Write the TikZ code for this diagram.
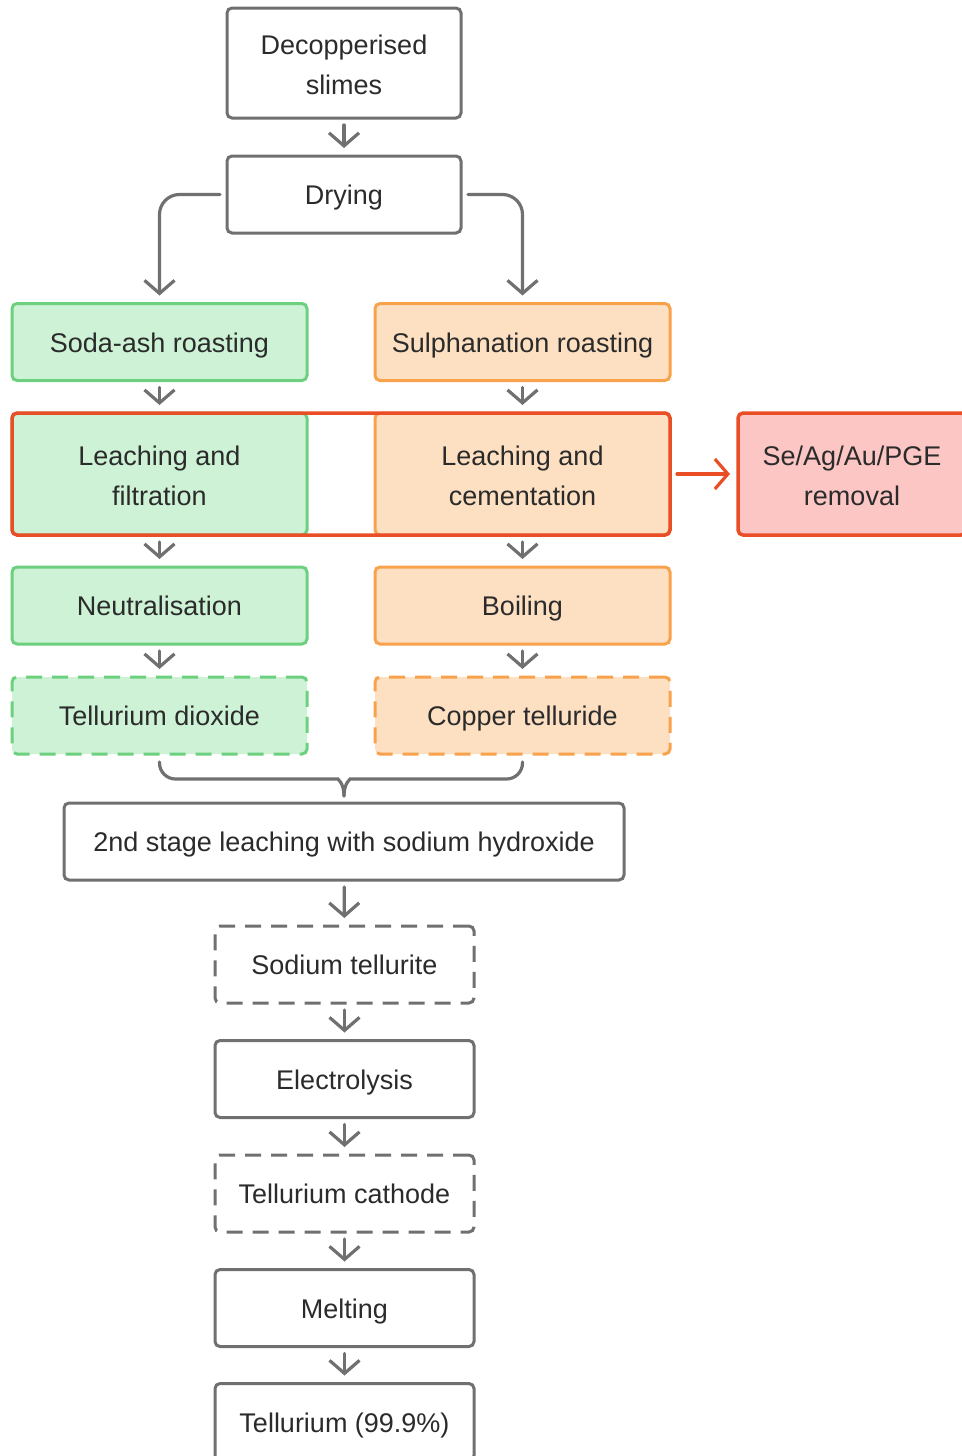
\documentclass[tikz,border=0pt]{standalone}
\usepackage{fontspec}
\setmainfont{Liberation Sans}
\usetikzlibrary{arrows.meta,fit}
\definecolor{linegray}{HTML}{707070}
\definecolor{textgray}{HTML}{2B2B2B}
\definecolor{greenfill}{HTML}{CDF2D5}
\definecolor{greenline}{HTML}{6CD07F}
\definecolor{orangefill}{HTML}{FDDFC2}
\definecolor{orangeline}{HTML}{F8A24C}
\definecolor{redfill}{HTML}{FCC6C4}
\definecolor{redline}{HTML}{E94E26}
\begin{document}
\begin{tikzpicture}[x=1pt, y=-1pt,
        box/.style={draw=linegray, fill=white, line width=3pt, rounded corners=5pt, minimum height=77pt, inner sep=0pt, outer sep=0pt, align=center, text=textgray, font=\fontsize{27}{40}\selectfont, text height=20pt, text depth=0pt},
        twoline/.style={text height=62pt, text depth=0pt},
        greenbox/.style={box, draw=greenline, fill=greenfill, minimum width=295pt},
        orangebox/.style={box, draw=orangeline, fill=orangefill, minimum width=295pt},
        dashbox/.style={dash pattern=on 16pt off 10pt},
        flow/.style={draw=linegray, line width=3.2pt, line cap=round, -{Straight Barb[length=13pt, width=30pt, line width=3.2pt]}, shorten <=7pt, shorten >=8pt},
        bracket/.style={draw=linegray, line width=3.2pt, line cap=round}]
        \useasboundingbox (0,0) rectangle (961,1456);

        \node[box, twoline, minimum width=234pt, minimum height=110pt] (slimes) at (344,63) {Decopperised\\slimes};
        \node[box, minimum width=234pt] (drying) at (344,194.5) {Drying};

        \node[greenbox] (soda) at (159.5,342) {Soda-ash roasting};
        \node[orangebox] (sulph) at (522.5,342) {Sulphanation roasting};

        \node[greenbox, twoline, minimum height=122pt] (leachfilt) at (159.5,474) {Leaching and\\filtration};
        \node[orangebox, twoline, minimum height=122pt] (leachcem) at (522.5,474) {Leaching and\\cementation};
        \node[draw=redline, line width=3.5pt, rounded corners=5pt, inner sep=0pt, outer sep=0pt, fit=(leachfilt)(leachcem)] (leaching) {};
        \node[box, twoline, draw=redline, fill=redfill, line width=3.5pt, minimum width=228pt, minimum height=122pt] (removal) at (852,474) {Se/Ag/Au/PGE\\removal};

        \node[greenbox] (neutral) at (159.5,605.5) {Neutralisation};
        \node[orangebox] (boiling) at (522.5,605.5) {Boiling};
        \node[greenbox, dashbox] (dioxide) at (159.5,715.5) {Tellurium dioxide};
        \node[orangebox, dashbox] (telluride) at (522.5,715.5) {Copper telluride};

        \node[box, minimum width=560pt] (naoh) at (344,841.5) {2nd stage leaching with sodium hydroxide};
        \node[box, dashbox, minimum width=259pt] (tellurite) at (344.5,964.5) {Sodium tellurite};
        \node[box, minimum width=259pt] (electro) at (344.5,1079) {Electrolysis};
        \node[box, dashbox, minimum width=259pt] (cathode) at (344.5,1193.5) {Tellurium cathode};
        \node[box, minimum width=259pt] (melting) at (344.5,1308) {Melting};
        \node[box, minimum width=259pt] (tellurium) at (344.5,1422) {Tellurium (99.9\%)};

        % connectors
        \draw[flow] (slimes) -- (drying);
        \draw[flow, rounded corners=20pt] (drying.west) -| (soda.north);
        \draw[flow, rounded corners=20pt] (drying.east) -| (sulph.north);
        \draw[flow] (soda) -- (leachfilt);
        \draw[flow] (sulph) -- (leachcem);
        \draw[flow, draw=redline] (leaching) -- (removal);
        \draw[flow] (leachfilt) -- (neutral);
        \draw[flow] (leachcem) -- (boiling);
        \draw[flow] (neutral) -- (dioxide);
        \draw[flow] (boiling) -- (telluride);

        % brace
        \coordinate (tip) at (344,796);
        \draw[bracket, rounded corners=16pt] ([yshift=-8pt]dioxide.south) |- (322,779) [sharp corners] .. controls (337,779) and (344,782) .. (tip);
        \draw[bracket, rounded corners=16pt] ([yshift=-8pt]telluride.south) |- (366,779) [sharp corners] .. controls (351,779) and (344,782) .. (tip);

        \draw[flow] (naoh) -- (tellurite);
        \draw[flow] (tellurite) -- (electro);
        \draw[flow] (electro) -- (cathode);
        \draw[flow] (cathode) -- (melting);
        \draw[flow] (melting) -- (tellurium);
\end{tikzpicture}
\end{document}
